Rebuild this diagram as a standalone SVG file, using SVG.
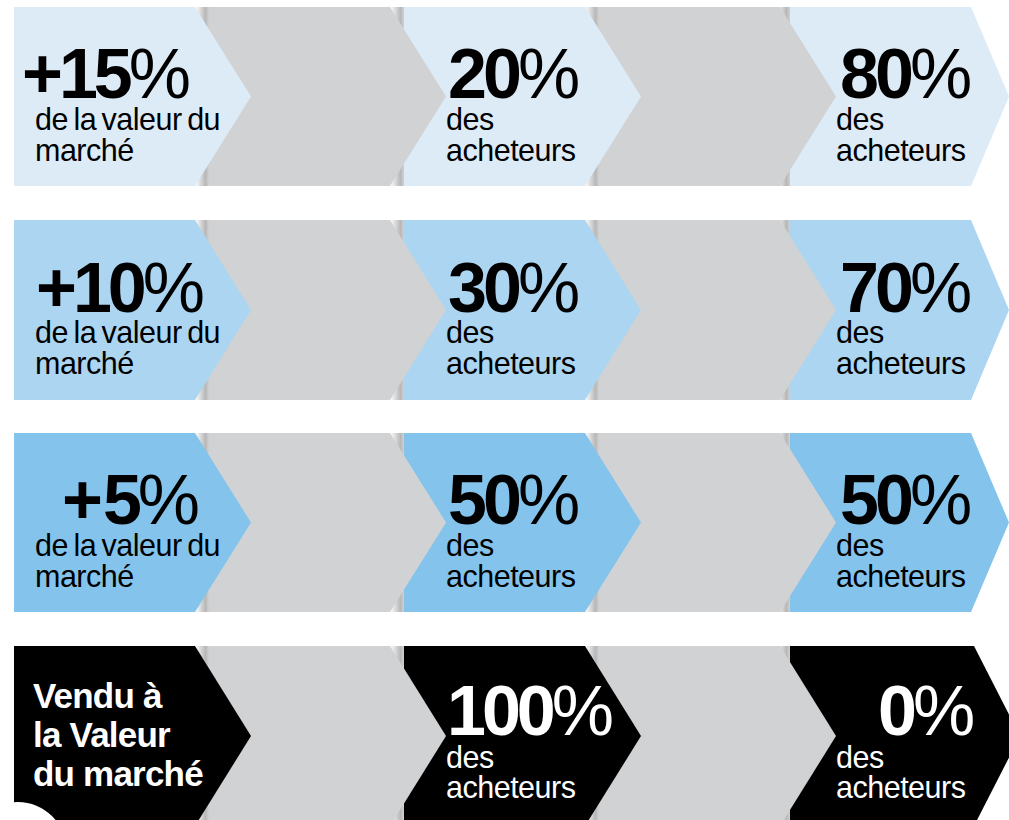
<svg xmlns="http://www.w3.org/2000/svg" width="1009" height="820" viewBox="0 0 1009 820">
<defs>
<linearGradient id="sh" x1="0" y1="0" x2="1" y2="0">
<stop offset="0" stop-color="#000" stop-opacity="0"/>
<stop offset="0.75" stop-color="#000" stop-opacity="0.28"/>
<stop offset="1" stop-color="#000" stop-opacity="0.18"/>
</linearGradient>
</defs>
<style>
text{font-family:"Liberation Sans",Arial,Helvetica,sans-serif}
.big{font-size:70px;font-weight:bold;letter-spacing:-4px}
.pc{font-weight:normal}
.sub{font-size:30.5px;letter-spacing:-0.5px;word-spacing:-2.5px}
.lbl{font-size:35px;font-weight:bold;letter-spacing:-0.8px;fill:#fff}
.w{fill:#fff}
.gray{fill:#d1d2d4}
.r1{fill:#ddebf7}
.r2{fill:#acd5f1}
.r3{fill:#84c4ec}
.r4{fill:#000}
.shd{fill:url(#sh)}
</style>
<rect width="1009" height="820" fill="#fff"/>

<!-- Row 1 -->
<g id="r1c5"><rect class="shd" x="776" y="7" width="14" height="179"/><polygon class="r1" points="790,7 971,7 1009,96.5 971,186 790,186"/>
<text class="big" x="840" y="98">80<tspan class="pc">%</tspan></text><text class="sub" x="836" y="130">des</text><text class="sub" x="836" y="161">acheteurs</text></g>
<g id="r1c4"><rect class="shd" x="585" y="7" width="14" height="179"/><polygon class="gray" points="599,7 780,7 836,96.5 780,186 599,186"/></g>
<g id="r1c3"><rect class="shd" x="390" y="7" width="14" height="179"/><polygon class="r1" points="404,7 585,7 641,96.5 585,186 404,186"/>
<text class="big" x="448" y="98">20<tspan class="pc">%</tspan></text><text class="sub" x="446" y="130">des</text><text class="sub" x="446" y="161">acheteurs</text></g>
<g id="r1c2"><rect class="shd" x="195" y="7" width="14" height="179"/><polygon class="gray" points="209,7 390,7 446,96.5 390,186 209,186"/></g>
<g id="r1c1"><polygon class="r1" points="14,7 195,7 251,96.5 195,186 14,186"/>
<text class="big" x="22" y="98">+15<tspan class="pc">%</tspan></text><text class="sub" x="35" y="130">de la valeur du</text><text class="sub" x="35" y="161">marché</text></g>

<!-- Row 2 -->
<g id="r2c5"><rect class="shd" x="776" y="220" width="14" height="180"/><polygon class="r2" points="790,220 971,220 1009,310 971,400 790,400"/>
<text class="big" x="840" y="312">70<tspan class="pc">%</tspan></text><text class="sub" x="836" y="343">des</text><text class="sub" x="836" y="374">acheteurs</text></g>
<g id="r2c4"><rect class="shd" x="585" y="220" width="14" height="180"/><polygon class="gray" points="599,220 780,220 836,310 780,400 599,400"/></g>
<g id="r2c3"><rect class="shd" x="390" y="220" width="14" height="180"/><polygon class="r2" points="404,220 585,220 641,310 585,400 404,400"/>
<text class="big" x="448" y="312">30<tspan class="pc">%</tspan></text><text class="sub" x="446" y="343">des</text><text class="sub" x="446" y="374">acheteurs</text></g>
<g id="r2c2"><rect class="shd" x="195" y="220" width="14" height="180"/><polygon class="gray" points="209,220 390,220 446,310 390,400 209,400"/></g>
<g id="r2c1"><polygon class="r2" points="14,220 195,220 251,310 195,400 14,400"/>
<text class="big" x="36" y="312">+10<tspan class="pc">%</tspan></text><text class="sub" x="35" y="343">de la valeur du</text><text class="sub" x="35" y="374">marché</text></g>

<!-- Row 3 -->
<g id="r3c5"><rect class="shd" x="776" y="433" width="14" height="179"/><polygon class="r3" points="790,433 971,433 1009,522.5 971,612 790,612"/>
<text class="big" x="840" y="524">50<tspan class="pc">%</tspan></text><text class="sub" x="836" y="556">des</text><text class="sub" x="836" y="587">acheteurs</text></g>
<g id="r3c4"><rect class="shd" x="585" y="433" width="14" height="179"/><polygon class="gray" points="599,433 780,433 836,522.5 780,612 599,612"/></g>
<g id="r3c3"><rect class="shd" x="390" y="433" width="14" height="179"/><polygon class="r3" points="404,433 585,433 641,522.5 585,612 404,612"/>
<text class="big" x="448" y="524">50<tspan class="pc">%</tspan></text><text class="sub" x="446" y="556">des</text><text class="sub" x="446" y="587">acheteurs</text></g>
<g id="r3c2"><rect class="shd" x="195" y="433" width="14" height="179"/><polygon class="gray" points="209,433 390,433 446,522.5 390,612 209,612"/></g>
<g id="r3c1"><polygon class="r3" points="14,433 195,433 251,522.5 195,612 14,612"/>
<text class="big" x="62" y="524">+<tspan dx="4">5</tspan><tspan class="pc">%</tspan></text><text class="sub" x="35" y="556">de la valeur du</text><text class="sub" x="35" y="587">marché</text></g>

<!-- Row 4 -->
<g id="r4c5"><rect class="shd" x="776" y="646" width="14" height="179"/><polygon class="r4" points="790,646 974,646 1020,736 974,826 790,826"/>
<text class="big w" x="878" y="735">0<tspan class="pc">%</tspan></text><text class="sub w" x="836" y="768">des</text><text class="sub w" x="836" y="798">acheteurs</text></g>
<g id="r4c4"><rect class="shd" x="585" y="646" width="14" height="179"/><polygon class="gray" points="599,646 780,646 836,736 780,826 599,826"/></g>
<g id="r4c3"><rect class="shd" x="390" y="646" width="14" height="179"/><polygon class="r4" points="404,646 585,646 641,736 585,826 404,826"/>
<text class="big w" x="447" y="735">100<tspan class="pc">%</tspan></text><text class="sub w" x="446" y="768">des</text><text class="sub w" x="446" y="798">acheteurs</text></g>
<g id="r4c2"><rect class="shd" x="195" y="646" width="14" height="179"/><polygon class="gray" points="209,646 390,646 446,736 390,826 209,826"/></g>
<g id="r4c1"><polygon class="r4" points="14,646 195,646 251,736 195,826 14,826"/>
<text class="lbl" x="33" y="708">Vendu à</text><text class="lbl" x="33" y="747">la Valeur</text><text class="lbl" x="33" y="786">du marché</text>
<circle cx="18" cy="850" r="48" fill="#fff"/></g>
</svg>
